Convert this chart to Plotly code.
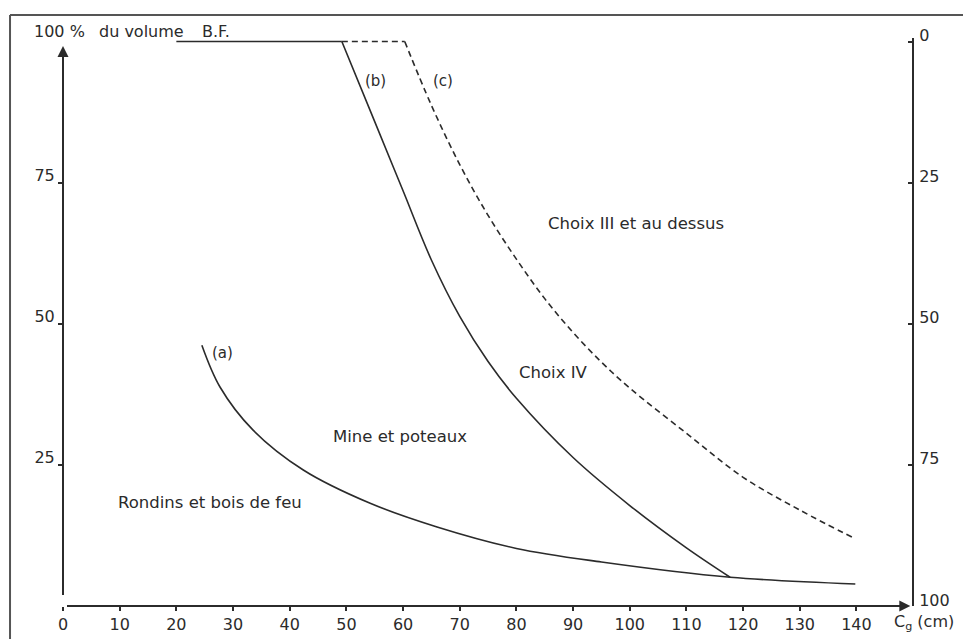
import plotly.graph_objects as go

# ---- data ----
flat_solid_x = [20, 49.2]
flat_solid_y = [100, 100]
flat_dash_x = [49.2, 60.3]
flat_dash_y = [100, 100]

curve_a_x = [24.5, 27.7, 33.5, 42.4, 54.2, 66.0, 80.0, 95.0, 117.7, 139.8]
curve_a_y = [46.2, 38.8, 31.2, 24.1, 18.2, 14.0, 10.2, 7.8, 5.1, 3.9]

curve_b_x = [49.2, 55, 60, 65, 70, 75, 80, 90, 100, 110, 117.7]
curve_b_y = [100, 85.8, 73.55, 61.3, 51.3, 43.3, 36.8, 26.3, 17.8, 10.3, 5.1]

curve_c_x = [60.3, 65, 70, 75, 80, 85, 90, 95, 100, 110, 120, 130, 139.8]
curve_c_y = [100, 88.7, 78.2, 69.2, 61.45, 54.45, 48.45, 43.2, 38.6, 30.6, 22.8, 17.0, 11.9]

x_ticks = [0, 10, 20, 30, 40, 50, 60, 70, 80, 90, 100, 110, 120, 130, 140]
left_ticks = [25, 50, 75]
right_ticks = [0, 25, 50, 75, 100]

zone_labels = ["Choix III et au dessus", "Choix IV", "Mine et poteaux", "Rondins et bois de feu"]
curve_labels = ["(a)", "(b)", "(c)"]

INK = "#2b2b2b"
FONT = "DejaVu Sans"

fig = go.Figure()

solid = dict(color=INK, width=1.6)
fig.add_trace(go.Scatter(x=flat_solid_x, y=flat_solid_y, mode="lines", line=solid,
                         showlegend=False, hoverinfo="skip"))
fig.add_trace(go.Scatter(x=flat_dash_x, y=flat_dash_y, mode="lines",
                         line=dict(color=INK, width=1.6, dash="6px,4px"),
                         showlegend=False, hoverinfo="skip"))
fig.add_trace(go.Scatter(x=curve_a_x, y=curve_a_y, mode="lines",
                         line=dict(color=INK, width=1.6, shape="spline", smoothing=1.0),
                         showlegend=False, hoverinfo="skip"))
fig.add_trace(go.Scatter(x=curve_b_x, y=curve_b_y, mode="lines",
                         line=dict(color=INK, width=1.6, shape="spline", smoothing=1.0),
                         showlegend=False, hoverinfo="skip"))
fig.add_trace(go.Scatter(x=curve_c_x, y=curve_c_y, mode="lines",
                         line=dict(color=INK, width=1.6, dash="6px,4px", shape="spline", smoothing=1.0),
                         showlegend=False, hoverinfo="skip"))

# label positions (data coordinates)
zone_pos = [(101.1, 67.8), (86.5, 41.3), (59.5, 30.1), (25.9, 18.4)]
curve_pos = [(28.1, 44.8), (55.1, 93.0), (67.1, 93.0)]

annotations = []
for t, (x, y) in zip(zone_labels, zone_pos):
    annotations.append(dict(x=x, y=y, xref="x", yref="y", text=t, showarrow=False,
                            font=dict(family=FONT, size=16.5, color=INK)))
for t, (x, y) in zip(curve_labels, curve_pos):
    annotations.append(dict(x=x, y=y, xref="x", yref="y", text=t, showarrow=False,
                            font=dict(family=FONT, size=15, color=INK)))

# header texts (paper coordinates, outside plotting area)
annotations.append(dict(x=-0.0365, y=1.0106, xref="paper", yref="paper", text="100 %", showarrow=False,
                        xanchor="left", yanchor="middle", font=dict(family=FONT, size=16, color=INK)))
annotations.append(dict(x=0.040, y=1.0106, xref="paper", yref="paper", text="du volume", showarrow=False,
                        xanchor="left", yanchor="middle", font=dict(family=FONT, size=16, color=INK)))
annotations.append(dict(x=0.1614, y=1.0106, xref="paper", yref="paper", text="B.F.", showarrow=False,
                        xanchor="left", yanchor="middle", font=dict(family=FONT, size=16, color=INK)))
annotations.append(dict(x=0.9764, y=-0.0282, xref="paper", yref="paper", text="C<sub>g</sub> (cm)",
                        showarrow=False, xanchor="left", yanchor="middle",
                        font=dict(family=FONT, size=16, color=INK)))

# axis arrows
annotations.append(dict(x=0, y=99.2, ax=0, ay=0, xref="x", yref="y", axref="x", ayref="y",
                        text=" ", showarrow=True, arrowhead=2, arrowsize=1.1, arrowwidth=2,
                        arrowcolor=INK, standoff=0, startstandoff=0))
annotations.append(dict(x=149.5, y=0, ax=0, ay=0, xref="x", yref="y", axref="x", ayref="y",
                        text=" ", showarrow=True, arrowhead=2, arrowsize=1.1, arrowwidth=2,
                        arrowcolor=INK, standoff=0, startstandoff=0))

# frame of the scanned page
shapes = [
    dict(type="line", xref="paper", yref="paper", x0=-0.0624, x1=-0.0624, y0=1.0405, y1=-0.07,
         line=dict(color="#555", width=2)),
    dict(type="line", xref="paper", yref="paper", x0=-0.0624, x1=1.07, y0=1.0405, y1=1.0405,
         line=dict(color="#555", width=2)),
]

fig.update_layout(
    template="none",
    width=963, height=639,
    margin=dict(l=63, r=51, t=38, b=33, pad=0),
    paper_bgcolor="white", plot_bgcolor="white",
    showlegend=False,
    annotations=annotations,
    shapes=shapes,
    font=dict(family=FONT, size=16, color=INK),
    xaxis=dict(range=[0, 149.8], tickvals=x_ticks, ticktext=[str(v) for v in x_ticks],
               automargin=False, showgrid=False, zeroline=False, showline=False,
               ticks="outside", ticklen=4, tickwidth=1.5, tickcolor=INK,
               tickfont=dict(family=FONT, size=16, color=INK)),
    yaxis=dict(range=[0, 100.62], tickvals=left_ticks, ticktext=[str(v) for v in left_ticks],
               automargin=False, showgrid=False, zeroline=False, showline=False,
               ticks="outside", ticklen=4, tickwidth=1.5, tickcolor=INK,
               ticklabelshift=-7, ticklabelstandoff=0,
               tickfont=dict(family=FONT, size=16, color=INK)),
    yaxis2=dict(range=[100, -0.62], overlaying="y", side="right",
                tickvals=right_ticks, ticktext=[str(v) for v in right_ticks],
                automargin=False, showgrid=False, zeroline=False, showline=True, linecolor=INK, linewidth=2,
                ticks="inside", ticklen=4, tickwidth=1.5, tickcolor=INK,
                ticklabelshift=6, ticklabelstandoff=2,
                tickfont=dict(family=FONT, size=16, color=INK)),
)

# invisible trace to activate the right-hand axis
fig.add_trace(go.Scatter(x=[None], y=[None], yaxis="y2", showlegend=False, hoverinfo="skip"))

fig.write_html("out.html", config={"displayModeBar": False},
               post_script="document.body.style.margin='0px';document.body.style.overflow='hidden';")
